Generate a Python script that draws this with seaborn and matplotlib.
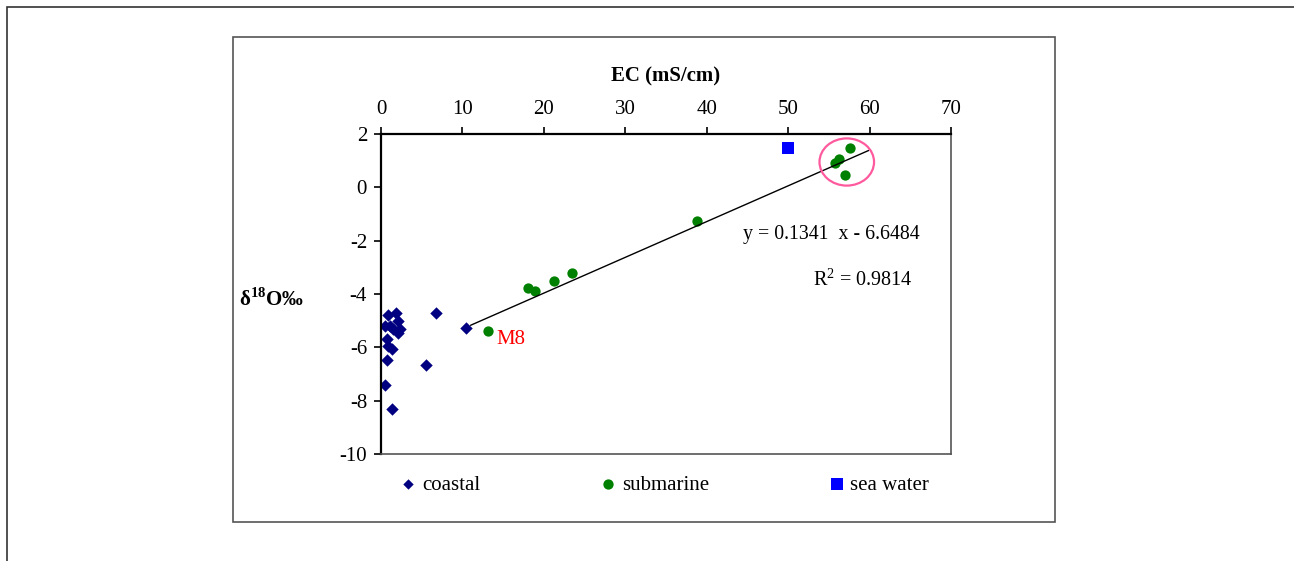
import numpy as np
import pandas as pd
import matplotlib
matplotlib.use("Agg")
import matplotlib.pyplot as plt
from matplotlib.patches import Ellipse, Rectangle
import seaborn as sns

# ---- data ----
coastal_ec = [0.9, 1.9, 6.7, 10.5, 0.5, 1.1, 2.1, 2.3, 1.5, 2.1, 0.7, 0.9, 1.3, 0.7, 5.5, 0.5, 1.4]
coastal_d18o = [-4.77, -4.70, -4.70, -5.29, -5.20, -5.20, -5.00, -5.33, -5.33, -5.45, -5.70,
                -5.95, -6.07, -6.49, -6.68, -7.41, -8.30]
sub_ec = [13.2, 18.0, 18.9, 21.2, 23.5, 38.8, 57.6, 56.25, 55.7, 57.0]
sub_d18o = [-5.40, -3.76, -3.87, -3.53, -3.23, -1.25, 1.47, 1.07, 0.90, 0.47]
sea_ec = [50.0]
sea_d18o = [1.47]
slope, intercept, r2 = 0.1341, -6.6484, 0.9814
fit_range = [11.0, 59.9]
x_ticks = [0, 10, 20, 30, 40, 50, 60, 70]
y_ticks = [2, 0, -2, -4, -6, -8, -10]

sns.set_theme(style="white")
plt.rcParams['font.family'] = ['Liberation Serif', 'DejaVu Serif']
plt.rcParams['mathtext.fontset'] = 'custom'
plt.rcParams['mathtext.rm'] = 'Liberation Serif'
plt.rcParams['mathtext.bf'] = 'Liberation Serif:bold'
plt.rcParams['axes.unicode_minus'] = False
plt.rcParams['text.color'] = 'black'
plt.rcParams['axes.labelcolor'] = 'black'

W, H = 1294, 561
fig = plt.figure(figsize=(W / 100, H / 100), dpi=100)
ax = fig.add_axes([381 / W, 1 - 454 / H, (951 - 381) / W, (454 - 134) / H])

fs = 15
sns.scatterplot(x=coastal_ec, y=coastal_d18o, marker='D', color='#000080', s=40,
                linewidth=0, ax=ax, label='coastal')
sns.scatterplot(x=sub_ec, y=sub_d18o, marker='o', color='#008000', s=55,
                linewidth=0, ax=ax, label='submarine')
sns.scatterplot(x=sea_ec, y=sea_d18o, marker='s', color='#0000FF', s=75,
                linewidth=0, ax=ax, label='sea water')

fx = np.array(fit_range)
sns.lineplot(x=fx, y=slope * fx + intercept, color='black', linewidth=1.0, ax=ax)

ax.add_patch(Ellipse((57.2, 0.95), width=6.7, height=1.77, fill=False,
                     edgecolor='#FF5A9E', linewidth=1.6, zorder=5))

ax.text(14.2, -5.7, 'M8', color='#FF0000', fontsize=fs, ha='left', va='center')
ax.text(44.4, -1.78, f'y = {slope}  x - {abs(intercept)}', fontsize=14.3, ha='left', va='center')
ax.text(53.0, -3.46, f'R$^2$ = {r2}', fontsize=14.5, ha='left', va='center')

ax.set_xlim(0, 70)
ax.set_ylim(-10, 2)
ax.set_xticks(x_ticks)
ax.set_yticks(y_ticks)
ax.set_xticklabels([str(v) for v in x_ticks])
ax.set_yticklabels([str(v) for v in y_ticks])
ax.xaxis.tick_top()
ax.xaxis.set_label_position('top')
ax.tick_params(axis='x', which='both', top=True, bottom=False, direction='out',
               length=5, width=1.2, pad=6, labelsize=fs, colors='black')
ax.tick_params(axis='y', left=True, direction='out', length=5, width=1.2, pad=5,
               labelsize=fs, colors='black')
ax.set_xlabel('EC (mS/cm)', fontsize=fs, fontweight='bold', labelpad=13)
ax.set_ylabel(r'δ$^{\mathbf{18}}$O‰', fontsize=fs, fontweight='bold', rotation=0,
              ha='center', va='center')
ax.yaxis.set_label_coords((271 - 381) / 570, (454 - 300) / 320)

for side in ['top', 'left']:
    ax.spines[side].set_color('black')
    ax.spines[side].set_linewidth(1.6)
for side in ['right', 'bottom']:
    ax.spines[side].set_color('#555555')
    ax.spines[side].set_linewidth(1.2)
    ax.spines[side].set_visible(True)

handles, labels = ax.get_legend_handles_labels()
if ax.get_legend():
    ax.get_legend().remove()
leg = fig.legend(handles[:3], labels[:3], loc='center left',
                 bbox_to_anchor=(400 / W, 1 - 485 / H), ncol=3, frameon=False,
                 fontsize=fs, handlelength=0.8, handletextpad=0.25, columnspacing=5.75,
                 borderpad=0, borderaxespad=0, markerscale=1.0)
for h, sz in zip(leg.legend_handles, [28, 55, 80]):
    h.set_sizes([sz])

# chart borders
fig.patches.append(Rectangle((233 / W, 1 - 522 / H), (1055 - 233) / W, (522 - 37) / H,
                             transform=fig.transFigure, fill=False,
                             edgecolor='#555555', linewidth=1.2))
fig.patches.append(Rectangle((6.5 / W, -0.1), 1.2, 1 - 6.5 / H + 0.1,
                             transform=fig.transFigure, fill=False,
                             edgecolor='#333333', linewidth=1.2, clip_on=False))

fig.savefig('out.png', dpi=100)
